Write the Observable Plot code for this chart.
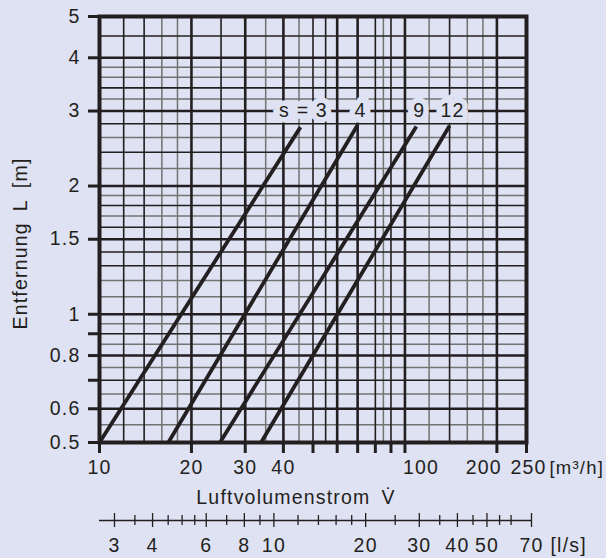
<!DOCTYPE html>
<html><head><meta charset="utf-8">
<script src="https://cdn.jsdelivr.net/npm/d3@7"></script>
<script src="https://cdn.jsdelivr.net/npm/@observablehq/plot@0.6"></script>
<style>
html,body{margin:0;padding:0;background:#dfe2f2;}
#chart{position:relative;width:606px;height:558px;overflow:hidden;}
#chart svg{position:absolute;left:0;}
</style></head><body><div id="chart"></div>
<script>
// ---- data ----
const seriesLabels = ["s = 3", "4", "9", "12"];
const seriesS = [3, 4, 9, 12];
const startFlow = [10, 16.8, 24.8, 33.8];     // m³/h at L = 0.5 m
const endFlow = [45.5, 70, 109, 140];         // m³/h at top end
const startDist = [0.5, 0.5, 0.5, 0.5];
const endDist = [2.75, 2.78, 2.76, 2.77];
const labelDist = 3;

const xTicks = [10, 20, 30, 40, 50, 60, 70, 80, 90, 100, 200, 250];
const xTickLabels = [10, 20, 30, 40, 60, 80];
const xLabel100 = 100, xLabel200 = 200, xLabel250 = 250;
const yTicks = [0.5, 0.6, 0.7, 0.8, 0.9, 1, 1.5, 2, 3, 4, 5];
const yTickLabels = [0.5, 0.6, 0.8, 1, 1.5, 2, 3, 4, 5];

const xGridMajor = [20, 30, 40, 60, 70, 100, 200];
const xGridMid = [12, 14, 25, 50, 55, 80, 90, 140];
const xGridMinor = [16, 18, 35, 45, 85, 120, 160, 180];
const yGridMajor = [4, 3, 2, 1.5, 1, 0.8, 0.6];
const yGridMid = [4.5, 3.4, 2.8, 2.4, 1.8, 1.6, 1.4, 1.3, 0.9, 0.7];
const yGridMinor = [3.8, 3.6, 3.2, 2.6, 2.2, 1.9, 1.7, 1.2, 1.1, 0.95, 0.85, 0.75, 0.65, 0.55];

const lsTicksMinor = [3.5, 4.5, 5, 5.5, 7, 9, 12, 14, 16, 18, 25, 35, 45, 55, 60];
const lsTickLabels = [3, 4, 6, 8, 10, 20, 30, 40, 50, 70];
const lsDomain = [2.679, 70];

const xUnit = "[m³/h]";
const lsUnit = "[l/s]";
const xTitle = "Luftvolumenstrom\u2002V\u0307";
const yTitle = "Entfernung\u2002L\u2002[m]";

// ---- derived tables ----
const lineData = seriesS.flatMap((s, i) => [
  {s, v: startFlow[i], L: startDist[i]},
  {s, v: endFlow[i], L: endDist[i]}
]);
const labelData = seriesS.map((s, i) => ({label: seriesLabels[i], v: endFlow[i], L: labelDist}));

const ink = "#231f20", gray = "#737373", bg = "#dfe2f2";
const font = '"Liberation Sans", Arial, Helvetica, sans-serif';
const FS = 19.5;
const baseStyle = {background: "transparent", fontFamily: font, fontSize: FS + "px", letterSpacing: "1.2px", color: ink, overflow: "visible"};
const tickText = {frameAnchor: "bottom", dy: 18, lineAnchor: "top", fill: ink, fontSize: FS};

const main = Plot.plot({
  width: 606, height: 558,
  marginLeft: 99, marginRight: 80, marginTop: 16, marginBottom: 116,
  x: {type: "log", domain: [10, 250]},
  y: {type: "log", domain: [0.5, 5]},
  style: baseStyle,
  marks: [
    Plot.ruleX(xGridMinor, {stroke: gray, strokeWidth: 1.5}),
    Plot.ruleY(yGridMinor, {stroke: gray, strokeWidth: 1.5}),
    Plot.ruleX(xGridMid, {stroke: ink, strokeWidth: 1.6}),
    Plot.ruleY(yGridMid, {stroke: ink, strokeWidth: 1.6}),
    Plot.ruleX(xGridMajor, {stroke: ink, strokeWidth: 2.6}),
    Plot.ruleY(yGridMajor, {stroke: ink, strokeWidth: 2.6}),
    Plot.frame({stroke: ink, strokeWidth: 4}),
    Plot.text(labelData, {x: "v", y: "L", text: "label", dx: 3, fill: ink, stroke: bg, strokeWidth: 11, fontSize: FS,
      strokeLinejoin: "miter", paintOrder: "stroke", lineAnchor: "middle", ariaLabel: "series labels"}),
    Plot.line(lineData, {x: "v", y: "L", z: "s", stroke: ink, strokeWidth: 3.8, strokeLinecap: "butt"}),
    Plot.axisX(xTicks, {tickSize: 11, tickPadding: 7, strokeWidth: 3, stroke: ink, fill: ink, label: null, fontSize: FS,
      tickFormat: d => xTickLabels.includes(d) ? String(d) : ""}),
    Plot.text([xLabel100], {x: d => d, text: d => String(d), textAnchor: "start", dx: -2, ...tickText}),
    Plot.text([xLabel200], {x: d => d, text: d => String(d), textAnchor: "end", dx: 5, ...tickText}),
    Plot.text([xLabel250], {x: d => d, text: d => String(d), dx: 2, ...tickText}),
    Plot.axisY(yTicks, {tickSize: 11, tickPadding: 8, strokeWidth: 3, stroke: ink, fill: ink, label: null, fontSize: FS,
      tickFormat: d => yTickLabels.includes(d) ? String(d) : ""}),
    Plot.text([{v: xLabel250, t: xUnit}], {x: "v", text: "t", frameAnchor: "bottom", dx: 23, dy: 31, fontSize: 18.5,
      textAnchor: "start", lineAnchor: "bottom", fill: ink, ariaLabel: "unit"}),
    Plot.text([xTitle], {frameAnchor: "bottom", dx: -17, dy: 61, lineAnchor: "bottom", fill: ink, fontSize: FS}),
    Plot.text([yTitle], {frameAnchor: "left", dx: -79, dy: 14, rotate: -90, lineAnchor: "middle", textAnchor: "middle", fill: ink, fontSize: FS})
  ]
});
main.style.top = "0px";
const lbl = main.querySelector('g[aria-label="series labels"]');
if (lbl) lbl.style.letterSpacing = "0px";
const unit = main.querySelector('g[aria-label="unit"]');
if (unit) unit.style.letterSpacing = "0px";

const second = Plot.plot({
  width: 606, height: 58,
  marginLeft: 99, marginRight: 75, marginTop: 12, marginBottom: 30,
  x: {type: "log", domain: lsDomain, axis: null},
  y: {domain: [0, 1], axis: null},
  style: baseStyle,
  marks: [
    Plot.ruleY([0.5], {stroke: ink, strokeWidth: 1.3}),
    Plot.ruleX(lsTicksMinor, {stroke: ink, strokeWidth: 1.3, insetTop: 3, insetBottom: 3}),
    Plot.ruleX(lsTickLabels, {stroke: ink, strokeWidth: 1.3, insetTop: 1, insetBottom: 1}),
    Plot.text(lsTickLabels, {x: d => d, text: d => String(d), frameAnchor: "bottom", dy: 23.5, lineAnchor: "bottom", fill: ink, fontSize: FS}),
    Plot.text([{v: lsTickLabels[lsTickLabels.length - 1], t: lsUnit}], {x: "v", text: "t", frameAnchor: "bottom", dx: 19, dy: 23.5,
      textAnchor: "start", lineAnchor: "bottom", fill: ink, fontSize: FS})
  ]
});
second.style.top = "500px";

const chart = document.getElementById("chart");
chart.appendChild(main);
chart.appendChild(second);
</script></body></html>
